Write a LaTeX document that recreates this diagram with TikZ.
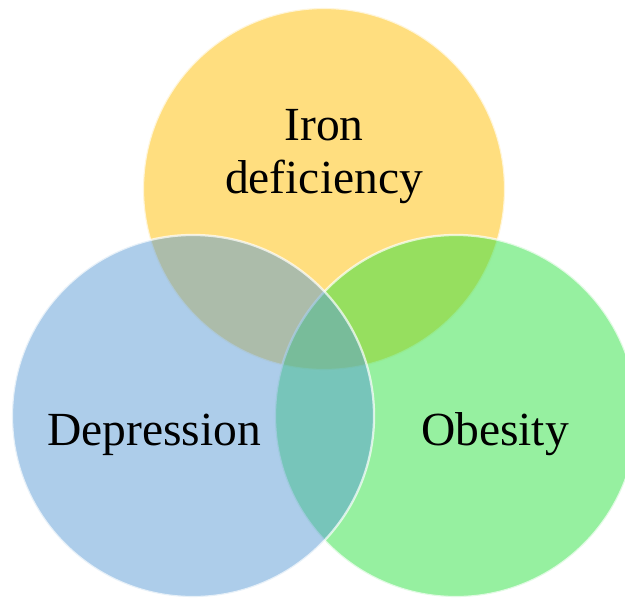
\documentclass[tikz,border=0pt]{standalone}
\usepackage{fontspec}
\setmainfont{Liberation Serif}
\usepackage{tikz}
\definecolor{irongold}{RGB}{255,190,0}
\definecolor{depblue}{RGB}{91,155,213}
\definecolor{obegreen}{RGB}{45,225,65}
\tikzset{
  venn/.style={circle, draw=white, line width=1.6pt, minimum size=9.05cm,
    inner sep=0pt, fill opacity=0.5, draw opacity=0.7},
  vlabel/.style={font=\fontsize{33.8}{37}\selectfont, text=black, inner sep=0pt,
    align=center},
}
\begin{document}
\begin{tikzpicture}[x=0.025cm, y=-0.025cm]
\useasboundingbox (0,0) rectangle (625,601);
\clip (0,0) rectangle (625,601);

\node[venn, fill=irongold] (iron) at (324,189) {};
\node[venn, fill=obegreen] (obe) at (456,416) {};
\node[venn, fill=depblue] (dep) at (193,416) {};

\node[vlabel, anchor=base] (ironlbl) at (324,193) {Iron\\deficiency};
\node[vlabel, anchor=base] (deplbl) at (154,445) {Depression};
\node[vlabel, anchor=base] (obelbl) at (495,445) {Obesity};

\end{tikzpicture}
\end{document}
